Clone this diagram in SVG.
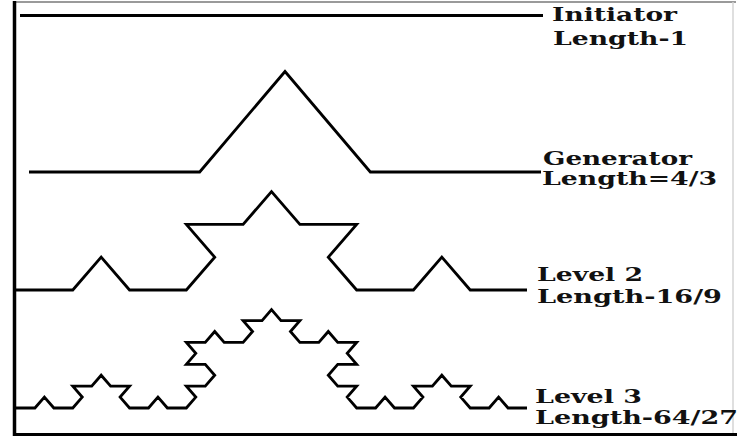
<svg xmlns="http://www.w3.org/2000/svg" width="740" height="437" viewBox="0 0 740 437">
<style>
.curve{fill:none;stroke:#000;stroke-width:2.8;stroke-linejoin:miter}
.lbl{font-family:"DejaVu Serif","Liberation Serif",serif;font-weight:bold;font-size:18px;fill:#111}
</style>
<rect x="0" y="0" width="740" height="437" fill="#fff"/>
<g id="frame">
<line x1="13" y1="2" x2="736" y2="2" stroke="#9a9a9a" stroke-width="2"/>
<line x1="733" y1="2" x2="733" y2="434" stroke="#d4d4d4" stroke-width="1.5"/>
<line x1="14.5" y1="1" x2="14.5" y2="436" stroke="#000" stroke-width="3.5"/>
<line x1="13" y1="434.5" x2="737" y2="434.5" stroke="#000" stroke-width="3"/>
</g>
<g id="connectors"></g>
<g id="initiator">
<line x1="20" y1="15.5" x2="543" y2="15.5" stroke="#000" stroke-width="3"/>
<text class="lbl" x="552" y="21" textLength="125" lengthAdjust="spacingAndGlyphs">Initiator</text>
<text class="lbl" x="553" y="45" textLength="135" lengthAdjust="spacingAndGlyphs">Length-1</text>
</g>
<g id="generator">
<path class="curve" d="M29,172 h170.667 l85.333,-100.5 l85.333,100.5 h170.667"/>
<text class="lbl" x="543" y="165" textLength="149" lengthAdjust="spacingAndGlyphs">Generator</text>
<text class="lbl" x="542" y="185" textLength="175" lengthAdjust="spacingAndGlyphs">Length=4/3</text>
</g>
<g id="level2">
<path class="curve" d="M16,290 h56.778 l28.389,-32.8 l28.389,32.8 h56.778 l28.389,-32.8 l-28.389,-32.8 h56.778 l28.389,-32.8 l28.389,32.8 h56.778 l-28.389,32.8 l28.389,32.8 h56.778 l28.389,-32.8 l28.389,32.8 h56.778"/>
<text class="lbl" x="537" y="281" textLength="106" lengthAdjust="spacingAndGlyphs">Level 2</text>
<text class="lbl" x="537" y="303" textLength="185" lengthAdjust="spacingAndGlyphs">Length-16/9</text>
</g>
<g id="level3">
<path class="curve" d="M16,408 h18.926 l9.463,-10.93 l9.463,10.93 h18.926 l9.463,-10.93 l-9.463,-10.93 h18.926 l9.463,-10.93 l9.463,10.93 h18.926 l-9.463,10.93 l9.463,10.93 h18.926 l9.463,-10.93 l9.463,10.93 h18.926 l9.463,-10.93 l-9.463,-10.93 h18.926 l9.463,-10.93 l-9.463,-10.93 h-18.926 l9.463,-10.93 l-9.463,-10.93 h18.926 l9.463,-10.93 l9.463,10.93 h18.926 l9.463,-10.93 l-9.463,-10.93 h18.926 l9.463,-10.93 l9.463,10.93 h18.926 l-9.463,10.93 l9.463,10.93 h18.926 l9.463,-10.93 l9.463,10.93 h18.926 l-9.463,10.93 l9.463,10.93 h-18.926 l-9.463,10.93 l9.463,10.93 h18.926 l-9.463,10.93 l9.463,10.93 h18.926 l9.463,-10.93 l9.463,10.93 h18.926 l9.463,-10.93 l-9.463,-10.93 h18.926 l9.463,-10.93 l9.463,10.93 h18.926 l-9.463,10.93 l9.463,10.93 h18.926 l9.463,-10.93 l9.463,10.93 h18.926"/>
<text class="lbl" x="535" y="403" textLength="107" lengthAdjust="spacingAndGlyphs">Level 3</text>
<text class="lbl" x="535" y="424" textLength="203" lengthAdjust="spacingAndGlyphs">Length-64/27</text>
</g>
</svg>
